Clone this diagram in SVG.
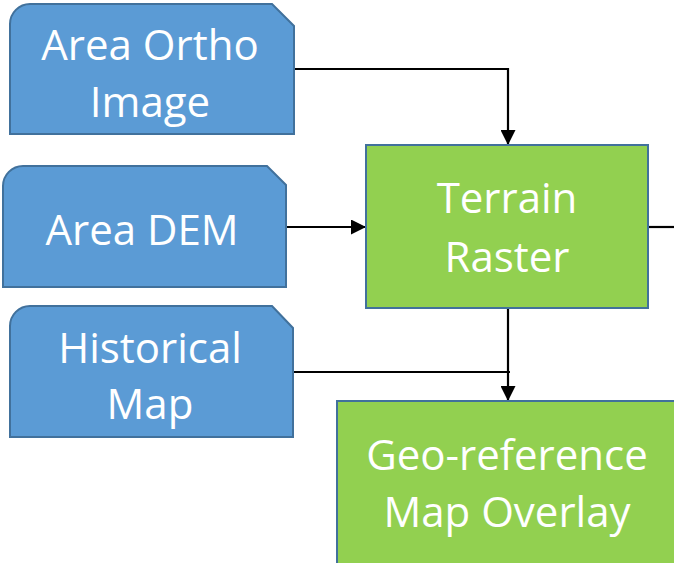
<svg xmlns="http://www.w3.org/2000/svg" width="674" height="563" viewBox="0 0 674 563">
<style>
.src{fill:#5B9BD5;stroke:#41719C;stroke-width:2}
.proc{fill:#92D050;stroke:#41719C;stroke-width:2}
.t{font-family:"Open Sans","Liberation Sans",sans-serif;font-size:42px;fill:#fff;text-anchor:middle}
.c{fill:none;stroke:#000;stroke-width:2.2}
</style>
<defs>
<marker id="ah" markerWidth="15" markerHeight="15" refX="15" refY="7.5" orient="auto" markerUnits="userSpaceOnUse">
<path d="M0,0 L15,7.5 L0,15 Z" fill="#000"/>
</marker>
</defs>
<rect width="674" height="563" fill="#fff"/>
<g id="connectors">
<polyline class="c" points="294,69 508,69 508,145" marker-end="url(#ah)"/>
<line class="c" x1="286" y1="227" x2="366" y2="227" marker-end="url(#ah)"/>
<line class="c" x1="648" y1="227" x2="676" y2="227"/>
<line class="c" x1="508" y1="308" x2="508" y2="401" marker-end="url(#ah)"/>
<line class="c" x1="293" y1="372" x2="510" y2="372"/>
</g>
<g id="area-ortho">
<path class="src" d="M10,134 V24 A20,20 0 0 1 30,4 H272 L294,26 V134 Z"/>
<text class="t" x="150" y="60">Area Ortho</text>
<text class="t" x="150" y="117">Image</text>
</g>
<g id="area-dem">
<path class="src" d="M3,287 V186 A20,20 0 0 1 23,166 H267 L286,185 V287 Z"/>
<text class="t" x="142" y="245">Area DEM</text>
</g>
<g id="historical-map">
<path class="src" d="M10,437 V326 A20,20 0 0 1 30,306 H272 L293,328 V437 Z"/>
<text class="t" x="150" y="363">Historical</text>
<text class="t" x="150" y="419">Map</text>
</g>
<g id="terrain-raster">
<rect class="proc" x="366" y="145" width="282" height="163"/>
<text class="t" x="507" y="213">Terrain</text>
<text class="t" x="507" y="272">Raster</text>
</g>
<g id="geo-reference">
<rect class="proc" x="337" y="401" width="340" height="170"/>
<text class="t" x="507" y="470">Geo-reference</text>
<text class="t" x="507" y="527">Map Overlay</text>
</g>
</svg>
